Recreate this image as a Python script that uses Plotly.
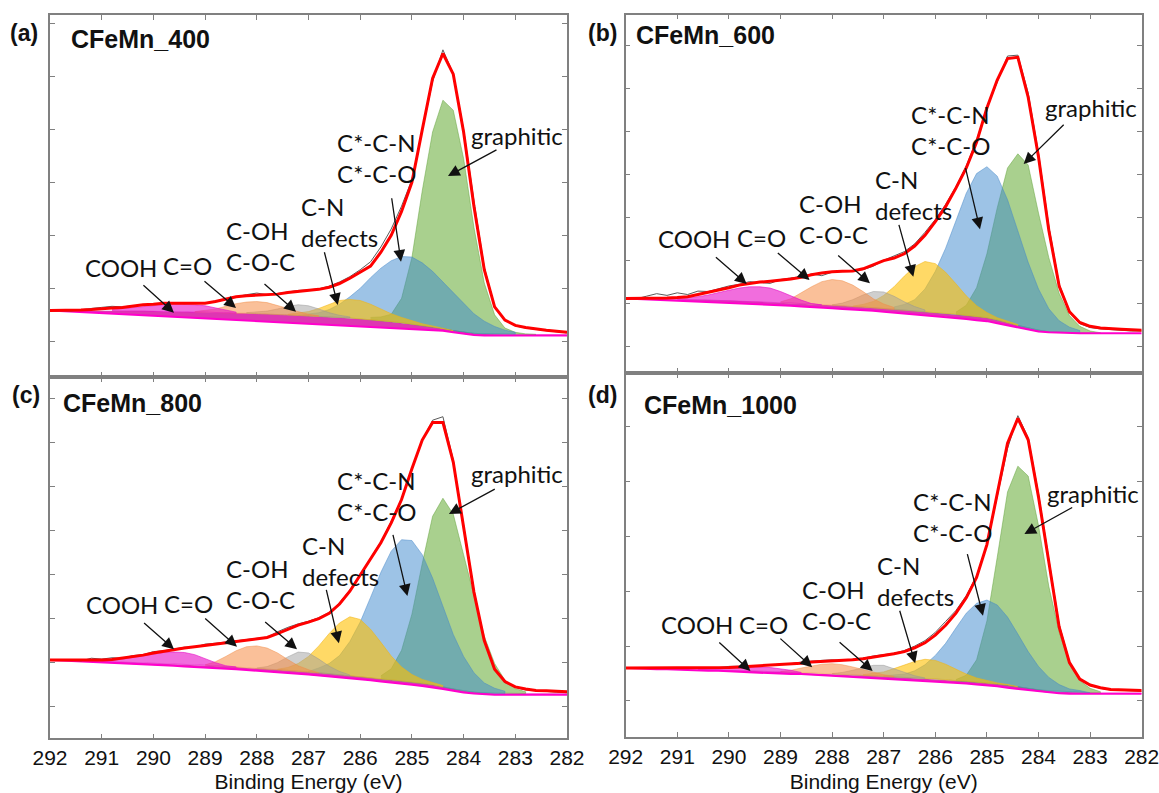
import plotly.graph_objects as go

# ---------------- data (binding energy grid, eV) ----------------
BE = [292.0, 291.8, 291.6, 291.4, 291.2, 291.0, 290.8, 290.6, 290.4, 290.2,
      290.0, 289.8, 289.6, 289.4, 289.2, 289.0, 288.8, 288.6, 288.4, 288.2,
      288.0, 287.8, 287.6, 287.4, 287.2, 287.0, 286.8, 286.6, 286.4, 286.2,
      286.0, 285.8, 285.6, 285.4, 285.2, 285.0, 284.8, 284.6, 284.4, 284.2,
      284.0, 283.8, 283.6, 283.4, 283.2, 283.0, 282.8, 282.6, 282.4, 282.2,
      282.0]

COMPONENTS = ["COOH", "C=O", "C-OH / C-O-C", "C-N defects", "C*-C-N / C*-C-O", "graphitic"]

# ---- (a) CFeMn_400 ----
a_raw = [0.57, 0.58, 0.57, 0.60, 0.62, 0.64, 0.66, 0.65, 0.67, 0.70,
         0.71, 0.72, 0.73, 0.71, 0.73, 0.72, 0.76, 0.80, 0.85, 0.88,
         0.91, 0.88, 0.90, 0.93, 0.96, 0.97, 0.99, 1.04, 1.12, 1.22,
         1.35, 1.50, 1.78, 2.12, 2.55, 3.05, 4.00, 4.90, 5.50, 5.05,
         4.00, 2.65, 1.40, 0.66, 0.40, 0.29, 0.25, 0.22, 0.20, 0.18,
         0.16]
a_fit = [0.58, 0.58, 0.58, 0.59, 0.60, 0.62, 0.63, 0.64, 0.67, 0.69,
         0.70, 0.72, 0.72, 0.72, 0.72, 0.72, 0.75, 0.79, 0.84, 0.86,
         0.87, 0.87, 0.89, 0.92, 0.94, 0.96, 0.98, 1.02, 1.09, 1.19,
         1.30, 1.42, 1.68, 2.00, 2.45, 3.00, 3.99, 4.96, 5.43, 5.04,
         3.95, 2.55, 1.35, 0.65, 0.40, 0.30, 0.26, 0.23, 0.21, 0.19,
         0.17]
a_bg_shirley = [0.58, 0.58, 0.58, 0.58, 0.58, 0.58, 0.58, 0.58, 0.57, 0.57,
                0.57, 0.56, 0.56, 0.56, 0.55, 0.55, 0.54, 0.54, 0.53, 0.53,
                0.52, 0.52, 0.51, 0.50, 0.49, 0.48, 0.47, 0.46, 0.45, 0.44,
                0.43, 0.41, 0.39, 0.37, 0.35, 0.33, 0.30, 0.27, 0.24, 0.20,
                0.17, 0.15, 0.14, 0.13, 0.13, 0.13, 0.13, 0.13, 0.13, 0.13,
                0.13]
a_bg_linear = [0.58, 0.57, 0.56, 0.55, 0.54, 0.53, 0.52, 0.51, 0.50, 0.49,
               0.48, 0.47, 0.46, 0.45, 0.44, 0.43, 0.42, 0.41, 0.40, 0.39,
               0.38, 0.37, 0.36, 0.35, 0.34, 0.33, 0.32, 0.31, 0.30, 0.29,
               0.28, 0.27, 0.26, 0.25, 0.24, 0.23, 0.22, 0.21, 0.20, 0.17,
               0.14, 0.12, 0.11, 0.11, 0.11, 0.11, 0.11, 0.11, 0.11, 0.11,
               0.11]
a_cooh_from, a_cooh = 290.8, [0.60, 0.62, 0.64, 0.66, 0.68, 0.69, 0.70, 0.70, 0.69, 0.67, 0.63, 0.59, 0.55]
a_co_from, a_co = 289.2, [0.56, 0.58, 0.61, 0.66, 0.71, 0.74, 0.75, 0.73, 0.68, 0.62, 0.56, 0.51, 0.48]
a_coh_from, a_coh = 288.2, [0.54, 0.55, 0.57, 0.61, 0.66, 0.69, 0.67, 0.61, 0.54, 0.49, 0.46]
a_cn_from, a_cn = 287.4, [0.51, 0.53, 0.56, 0.62, 0.70, 0.77, 0.79, 0.77, 0.70, 0.61, 0.52, 0.45, 0.39, 0.33, 0.29, 0.25, 0.21]
a_ccn_from, a_ccn = 287.2, [0.49, 0.51, 0.54, 0.60, 0.70, 0.84, 1.00, 1.20, 1.38, 1.52, 1.60, 1.59, 1.48, 1.32, 1.12, 0.90, 0.70, 0.52, 0.38, 0.28, 0.21, 0.17]
a_gr_from, a_gr = 285.8, [0.45, 0.46, 0.51, 0.81, 1.58, 2.84, 3.95, 4.55, 4.36, 3.45, 2.15, 1.10, 0.50, 0.25, 0.17, 0.14, 0.13]

# ---- (b) CFeMn_600 ----
b_raw = [1.12, 1.10, 1.16, 1.22, 1.18, 1.24, 1.20, 1.28, 1.27, 1.33,
         1.40, 1.44, 1.50, 1.48, 1.46, 1.55, 1.58, 1.62, 1.68, 1.64,
         1.72, 1.74, 1.77, 1.78, 1.86, 2.00, 2.10, 2.20, 2.38, 2.65,
         2.95, 3.30, 3.72, 4.20, 4.80, 5.55, 6.15, 6.76, 6.78, 5.90,
         4.50, 2.80, 1.45, 0.80, 0.52, 0.43, 0.40, 0.38, 0.36, 0.35,
         0.35]
b_fit = [1.11, 1.11, 1.11, 1.11, 1.12, 1.13, 1.15, 1.20, 1.25, 1.30,
         1.36, 1.42, 1.46, 1.49, 1.51, 1.53, 1.56, 1.60, 1.66, 1.70,
         1.73, 1.74, 1.75, 1.80, 1.89, 1.99, 2.05, 2.15, 2.33, 2.58,
         2.90, 3.25, 3.68, 4.15, 4.75, 5.55, 6.20, 6.70, 6.73, 5.80,
         4.41, 2.70, 1.40, 0.80, 0.55, 0.46, 0.42, 0.40, 0.39, 0.38,
         0.37]
b_bg_shirley = [1.11, 1.11, 1.10, 1.10, 1.09, 1.09, 1.08, 1.08, 1.07, 1.07,
                1.06, 1.05, 1.04, 1.03, 1.02, 1.01, 1.00, 0.99, 0.98, 0.96,
                0.95, 0.94, 0.92, 0.91, 0.89, 0.88, 0.86, 0.84, 0.82, 0.80,
                0.78, 0.76, 0.74, 0.71, 0.69, 0.66, 0.61, 0.55, 0.48, 0.42,
                0.37, 0.33, 0.32, 0.31, 0.31, 0.30, 0.30, 0.30, 0.30, 0.30,
                0.30]
b_bg_linear = [1.11, 1.10, 1.09, 1.08, 1.07, 1.06, 1.05, 1.04, 1.02, 1.01,
               1.00, 0.99, 0.98, 0.97, 0.96, 0.95, 0.94, 0.92, 0.91, 0.89,
               0.88, 0.86, 0.85, 0.83, 0.82, 0.80, 0.78, 0.76, 0.74, 0.72,
               0.70, 0.68, 0.65, 0.63, 0.60, 0.58, 0.53, 0.48, 0.43, 0.38,
               0.34, 0.32, 0.31, 0.30, 0.30, 0.30, 0.30, 0.30, 0.30, 0.30,
               0.30]
b_cooh_from, b_cooh = 291.0, [1.10, 1.12, 1.15, 1.19, 1.25, 1.30, 1.35, 1.38, 1.38, 1.35, 1.27, 1.17, 1.07, 0.99, 0.96]
b_co_from, b_co = 289.0, [1.03, 1.10, 1.24, 1.38, 1.50, 1.55, 1.52, 1.42, 1.27, 1.10, 0.98, 0.90]
b_coh_from, b_coh = 288.0, [0.96, 1.00, 1.08, 1.19, 1.27, 1.26, 1.16, 1.03, 0.92, 0.84]
b_cn_from, b_cn = 287.6, [0.93, 0.97, 1.04, 1.18, 1.38, 1.63, 1.85, 1.97, 1.92, 1.72, 1.45, 1.17, 0.94, 0.78, 0.66, 0.58, 0.50]
b_ccn_from, b_ccn = 286.8, [0.91, 0.97, 1.08, 1.33, 1.74, 2.28, 2.92, 3.56, 4.02, 4.18, 3.96, 3.41, 2.68, 1.95, 1.33, 0.87, 0.59, 0.44, 0.36]
b_gr_from, b_gr = 285.6, [0.79, 0.95, 1.36, 2.15, 3.22, 4.15, 4.48, 4.22, 3.10, 2.06, 1.23, 0.71, 0.46, 0.35, 0.31]

# ---- (c) CFeMn_800 ----
c_raw = [1.07, 1.05, 1.06, 1.04, 1.10, 1.08, 1.11, 1.10, 1.16, 1.18,
         1.25, 1.27, 1.31, 1.35, 1.35, 1.42, 1.44, 1.47, 1.50, 1.53,
         1.55, 1.58, 1.70, 1.80, 1.88, 1.94, 2.02, 2.14, 2.36, 2.65,
         3.00, 3.38, 3.75, 4.20, 4.72, 5.40, 6.05, 6.50, 6.58, 5.60,
         4.15, 2.65, 1.50, 0.85, 0.55, 0.44, 0.38, 0.36, 0.34, 0.33,
         0.32]
c_fit = [1.06, 1.06, 1.05, 1.05, 1.05, 1.06, 1.07, 1.10, 1.13, 1.17,
         1.22, 1.26, 1.30, 1.33, 1.36, 1.39, 1.42, 1.45, 1.49, 1.52,
         1.54, 1.57, 1.66, 1.76, 1.85, 1.92, 2.00, 2.12, 2.33, 2.62,
         2.98, 3.35, 3.72, 4.17, 4.70, 5.40, 6.05, 6.45, 6.45, 5.55,
         4.10, 2.60, 1.50, 0.85, 0.57, 0.45, 0.40, 0.37, 0.36, 0.35,
         0.34]
c_bg_shirley = [1.06, 1.05, 1.05, 1.04, 1.04, 1.03, 1.02, 1.01, 1.00, 1.00,
                0.99, 0.98, 0.97, 0.96, 0.95, 0.94, 0.93, 0.91, 0.90, 0.88,
                0.87, 0.85, 0.84, 0.82, 0.81, 0.79, 0.77, 0.75, 0.73, 0.70,
                0.68, 0.66, 0.63, 0.61, 0.58, 0.56, 0.53, 0.50, 0.45, 0.40,
                0.36, 0.33, 0.31, 0.30, 0.30, 0.30, 0.30, 0.30, 0.30, 0.30,
                0.30]
c_bg_linear = [1.06, 1.05, 1.04, 1.03, 1.01, 1.00, 0.99, 0.98, 0.97, 0.96,
               0.95, 0.94, 0.93, 0.91, 0.90, 0.89, 0.88, 0.86, 0.85, 0.83,
               0.82, 0.80, 0.78, 0.77, 0.75, 0.73, 0.71, 0.69, 0.66, 0.64,
               0.62, 0.60, 0.57, 0.55, 0.52, 0.50, 0.47, 0.44, 0.40, 0.36,
               0.32, 0.30, 0.28, 0.27, 0.27, 0.27, 0.27, 0.27, 0.27, 0.27,
               0.27]
c_cooh_from, c_cooh = 291.0, [1.03, 1.05, 1.08, 1.12, 1.16, 1.20, 1.23, 1.24, 1.23, 1.18, 1.09, 1.00, 0.93, 0.90]
c_co_from, c_co = 289.0, [0.95, 1.02, 1.14, 1.27, 1.36, 1.38, 1.33, 1.22, 1.07, 0.93, 0.84, 0.78]
c_coh_from, c_coh = 288.0, [0.88, 0.91, 1.00, 1.13, 1.24, 1.22, 1.08, 0.92, 0.80, 0.72]
c_cn_from, c_cn = 287.6, [0.85, 0.89, 0.98, 1.14, 1.38, 1.66, 1.90, 2.04, 1.98, 1.76, 1.46, 1.15, 0.90, 0.73, 0.62, 0.55, 0.48]
c_ccn_from, c_ccn = 287.0, [0.80, 0.88, 0.98, 1.16, 1.48, 1.92, 2.48, 3.05, 3.53, 3.79, 3.77, 3.45, 2.92, 2.27, 1.64, 1.14, 0.77, 0.54, 0.42, 0.35]
c_gr_from, c_gr = 285.6, [0.70, 0.86, 1.28, 2.10, 3.25, 4.32, 4.73, 4.37, 3.45, 2.50, 1.60, 0.98, 0.60, 0.41, 0.34]

# ---- (d) CFeMn_1000 ----
d_raw = [0.60, 0.60, 0.59, 0.60, 0.61, 0.60, 0.61, 0.61, 0.62, 0.61,
         0.63, 0.63, 0.64, 0.64, 0.66, 0.67, 0.68, 0.71, 0.73, 0.74,
         0.75, 0.74, 0.76, 0.78, 0.82, 0.85, 0.87, 0.92, 1.00, 1.10,
         1.25, 1.45, 1.65, 1.92, 2.28, 2.85, 3.75, 4.60, 5.20, 4.80,
         3.78, 2.60, 1.40, 0.72, 0.40, 0.28, 0.23, 0.20, 0.19, 0.18,
         0.18]
d_fit = [0.60, 0.60, 0.60, 0.60, 0.60, 0.60, 0.60, 0.60, 0.61, 0.61,
         0.61, 0.62, 0.63, 0.64, 0.65, 0.66, 0.67, 0.69, 0.71, 0.72,
         0.73, 0.73, 0.75, 0.77, 0.80, 0.82, 0.86, 0.90, 0.97, 1.06,
         1.20, 1.38, 1.60, 1.88, 2.25, 2.85, 3.80, 4.70, 5.15, 4.76,
         3.72, 2.50, 1.35, 0.70, 0.40, 0.29, 0.24, 0.21, 0.20, 0.19,
         0.19]
d_bg_shirley = [0.60, 0.60, 0.59, 0.59, 0.58, 0.58, 0.58, 0.57, 0.57, 0.56,
                0.56, 0.55, 0.55, 0.54, 0.54, 0.53, 0.52, 0.51, 0.51, 0.50,
                0.49, 0.48, 0.47, 0.47, 0.46, 0.45, 0.44, 0.43, 0.42, 0.41,
                0.40, 0.39, 0.37, 0.36, 0.34, 0.33, 0.31, 0.29, 0.26, 0.23,
                0.20, 0.18, 0.17, 0.16, 0.16, 0.15, 0.15, 0.15, 0.15, 0.15,
                0.15]
d_bg_linear = [0.60, 0.59, 0.59, 0.58, 0.58, 0.57, 0.56, 0.56, 0.55, 0.55,
               0.54, 0.53, 0.53, 0.52, 0.51, 0.50, 0.49, 0.49, 0.48, 0.47,
               0.46, 0.45, 0.44, 0.43, 0.42, 0.41, 0.40, 0.39, 0.38, 0.37,
               0.36, 0.35, 0.33, 0.32, 0.30, 0.29, 0.27, 0.24, 0.22, 0.19,
               0.17, 0.15, 0.14, 0.13, 0.13, 0.13, 0.13, 0.13, 0.13, 0.13,
               0.13]
d_cooh_from, d_cooh = 290.6, [0.57, 0.58, 0.59, 0.60, 0.61, 0.62, 0.62, 0.61, 0.59, 0.56, 0.52]
d_co_from, d_co = 289.0, [0.54, 0.56, 0.60, 0.64, 0.67, 0.68, 0.66, 0.62, 0.57, 0.52, 0.48, 0.45]
d_coh_from, d_coh = 288.0, [0.50, 0.52, 0.56, 0.61, 0.65, 0.65, 0.59, 0.52, 0.46, 0.42]
d_cn_from, d_cn = 287.4, [0.48, 0.50, 0.53, 0.59, 0.66, 0.72, 0.76, 0.74, 0.67, 0.58, 0.49, 0.42, 0.37, 0.33, 0.30, 0.27]
d_ccn_from, d_ccn = 287.0, [0.46, 0.47, 0.49, 0.55, 0.66, 0.83, 1.05, 1.33, 1.60, 1.78, 1.84, 1.75, 1.53, 1.22, 0.90, 0.63, 0.43, 0.30, 0.22, 0.19, 0.16]
d_gr_from, d_gr = 285.6, [0.39, 0.47, 0.75, 1.46, 2.62, 3.81, 4.28, 4.10, 3.20, 2.09, 1.26, 0.68, 0.37, 0.23, 0.17]

# ---------------- styles / layout ----------------
# component colours (COOH, C=O, C-OH, C-N, C*-C-N, graphitic)
FILL = ["rgba(232,20,200,0.62)", "rgba(245,140,70,0.55)", "rgba(160,160,160,0.50)",
        "rgba(255,192,0,0.60)", "rgba(59,135,205,0.50)", "rgba(99,170,50,0.55)"]
EDGE = ["rgba(232,20,200,0.8)", "rgba(240,140,70,0.6)", "rgba(150,150,150,0.6)",
        "rgba(240,180,20,0.7)", "rgba(70,135,200,0.6)", "rgba(95,160,55,0.6)"]
DRAW_ORDER = [5, 4, 3, 2, 1, 0]   # graphitic at the back, COOH at the front

panels = [
    dict(tag="(a)", name="CFeMn_400", raw=a_raw, fit=a_fit, bgs=a_bg_shirley, bgl=a_bg_linear,
         comps=[(a_cooh_from, a_cooh), (a_co_from, a_co), (a_coh_from, a_coh),
                (a_cn_from, a_cn), (a_ccn_from, a_ccn), (a_gr_from, a_gr)]),
    dict(tag="(b)", name="CFeMn_600", raw=b_raw, fit=b_fit, bgs=b_bg_shirley, bgl=b_bg_linear,
         comps=[(b_cooh_from, b_cooh), (b_co_from, b_co), (b_coh_from, b_coh),
                (b_cn_from, b_cn), (b_ccn_from, b_ccn), (b_gr_from, b_gr)]),
    dict(tag="(c)", name="CFeMn_800", raw=c_raw, fit=c_fit, bgs=c_bg_shirley, bgl=c_bg_linear,
         comps=[(c_cooh_from, c_cooh), (c_co_from, c_co), (c_coh_from, c_coh),
                (c_cn_from, c_cn), (c_ccn_from, c_ccn), (c_gr_from, c_gr)]),
    dict(tag="(d)", name="CFeMn_1000", raw=d_raw, fit=d_fit, bgs=d_bg_shirley, bgl=d_bg_linear,
         comps=[(d_cooh_from, d_cooh), (d_co_from, d_co), (d_coh_from, d_coh),
                (d_cn_from, d_cn), (d_ccn_from, d_ccn), (d_gr_from, d_gr)]),
]

# axis geometry (paper fractions) and y ranges
W, H = 1159, 793
XDOM = [[50 / W, 567 / W], [625.7 / W, 1141.7 / W], [50 / W, 567 / W], [625.7 / W, 1141.7 / W]]
YDOM = [[1 - 376.7 / H, 1 - 15 / H], [1 - 373 / H, 1 - 14.7 / H],
        [1 - 738.3 / H, 1 - 377 / H], [1 - 736.7 / H, 1 - 373 / H]]
YRANGE = [[-0.668, 6.157], [-0.629, 7.723], [-0.717, 7.481], [-0.651, 5.978]]

# label positions (data coords): text, x, y, anchor
LABELS = [
    [("COOH", 290.62, 1.402, "center"), ("C=O", 289.35, 1.426, "center"),
     ("C-OH<br>C-O-C", 288.634, 1.80, "left"), ("C-N<br>defects", 287.184, 2.245, "left"),
     ("C*-C-N<br>C*-C-O", 286.484, 3.458, "left"), ("graphitic", 282.973, 3.874, "center")],
    [("COOH", 290.67, 2.510, "center"), ("C=O", 289.37, 2.534, "center"),
     ("C-OH<br>C-O-C", 288.686, 2.972, "left"), ("C-N<br>defects", 287.215, 3.520, "left"),
     ("C*-C-N<br>C*-C-O", 286.512, 5.027, "left"), ("graphitic", 282.983, 5.564, "center")],
    [("COOH", 290.61, 2.324, "center"), ("C=O", 289.33, 2.346, "center"),
     ("C-OH<br>C-O-C", 288.634, 2.773, "left"), ("C-N<br>defects", 287.164, 3.317, "left"),
     ("C*-C-N<br>C*-C-O", 286.484, 4.792, "left"), ("graphitic", 282.960, 5.296, "center")],
    [("COOH", 290.62, 1.385, "center"), ("C=O", 289.33, 1.398, "center"),
     ("C-OH<br>C-O-C", 288.630, 1.750, "left"), ("C-N<br>defects", 287.165, 2.183, "left"),
     ("C*-C-N<br>C*-C-O", 286.477, 3.359, "left"), ("graphitic", 282.944, 3.785, "center")],
]
# arrows: tail x, tail y, head x, head y (data coords)
ARROWS = [
    [(290.222, 1.081, 289.602, 0.540), (289.041, 1.157, 288.402, 0.628), (287.880, 1.106, 287.242, 0.558),
     (286.700, 1.709, 286.433, 0.685), (285.395, 2.728, 285.211, 1.502), (283.335, 3.628, 284.302, 3.119)],
    [(290.281, 2.098, 289.655, 1.445), (289.081, 2.198, 288.436, 1.538), (287.911, 2.138, 287.266, 1.462),
     (286.713, 2.860, 286.426, 1.615), (285.421, 4.180, 285.134, 2.720), (283.483, 5.191, 284.287, 4.242)],
    [(290.209, 1.929, 289.602, 1.302), (289.027, 2.029, 288.383, 1.361), (287.867, 1.951, 287.222, 1.302),
     (286.662, 2.687, 286.412, 1.439), (285.373, 3.935, 285.087, 2.512), (283.368, 4.956, 284.284, 4.373)],
    [(290.215, 1.093, 289.583, 0.547), (289.031, 1.161, 288.386, 0.614), (287.884, 1.093, 287.215, 0.547),
     (286.698, 1.671, 286.390, 0.687), (285.386, 2.703, 285.076, 1.555), (283.318, 3.541, 284.273, 3.044)],
]
# panel tag / title positions in pixels (converted to paper)
TAGPOS = [(24, 33), (603, 33), (25.5, 395), (603, 395)]
TITLEPOS = [(68.5, 39), (633.7, 35), (61, 403), (642, 405)]

LABEL_FONT = dict(family="Lato, Carlito, sans-serif", size=24, color="#111111")
TICK_FONT = dict(family="Liberation Sans, Arial, sans-serif", size=21, color="#111111")

fig = go.Figure()
layout = dict(width=W, height=H, margin=dict(l=0, r=0, t=0, b=0, pad=0, autoexpand=False),
              template=go.layout.Template(),
              paper_bgcolor="white", plot_bgcolor="white", showlegend=False)
annotations = []
keyBE = [round(v, 1) for v in BE]

for k, p in enumerate(panels):
    sfx = "" if k == 0 else str(k + 1)
    xa, ya = "x" + sfx, "y" + sfx
    # magenta background region (between Shirley and linear)
    fig.add_trace(go.Scatter(x=BE + BE[::-1], y=p["bgs"] + p["bgl"][::-1], fill="toself",
                             fillcolor="rgba(215,20,165,0.85)", line=dict(width=0),
                             mode="lines", hoverinfo="skip", xaxis=xa, yaxis=ya))
    # components
    for c in DRAW_ORDER:
        start, vals = p["comps"][c]
        i0 = keyBE.index(round(start, 1))
        xs = BE[i0:i0 + len(vals)]
        base = p["bgs"][i0:i0 + len(vals)]
        fig.add_trace(go.Scatter(x=xs + xs[::-1], y=list(vals) + base[::-1], fill="toself",
                                 fillcolor=FILL[c], line=dict(color=EDGE[c], width=0.8),
                                 mode="lines", name=COMPONENTS[c], hoverinfo="skip",
                                 xaxis=xa, yaxis=ya))
    # background line
    fig.add_trace(go.Scatter(x=BE, y=p["bgl"], mode="lines",
                             line=dict(color="#ff00cc", width=2), xaxis=xa, yaxis=ya))
    # raw data and envelope
    fig.add_trace(go.Scatter(x=BE, y=p["raw"], mode="lines",
                             line=dict(color="#5a5a5a", width=1), xaxis=xa, yaxis=ya))
    fig.add_trace(go.Scatter(x=BE, y=p["fit"], mode="lines",
                             line=dict(color="#ff0000", width=3), xaxis=xa, yaxis=ya))

    bottom = k >= 2
    layout["xaxis" + sfx] = dict(
        domain=XDOM[k], range=[292, 282], anchor=ya, tick0=282, dtick=1, automargin=False,
        ticks="inside", ticklen=5, tickwidth=1.2, tickcolor="#808080",
        showline=True, linecolor="#808080", linewidth=1.5, mirror="ticks",
        showgrid=False, zeroline=False, showticklabels=bottom, tickfont=TICK_FONT,
        ticklabeloverflow="allow",
        title=dict(text="Binding Energy (eV)" if bottom else "", font=dict(
            family="Liberation Sans, Arial, sans-serif", size=21, color="#111111"), standoff=8),
    )
    layout["yaxis" + sfx] = dict(
        domain=YDOM[k], range=YRANGE[k], anchor=xa, tick0=0, dtick=1, automargin=False,
        ticks="inside", ticklen=5, tickwidth=1.2, tickcolor="#808080",
        showline=True, linecolor="#808080", linewidth=1.5, mirror="ticks",
        showgrid=False, zeroline=False, showticklabels=False,
    )

    for (txt, lx, ly, anc) in LABELS[k]:
        annotations.append(dict(text=txt, x=lx, y=ly, xref=xa, yref=ya, showarrow=False,
                                xanchor=anc, yanchor="middle", align="left", font=LABEL_FONT))
    for (tx, ty, hx, hy) in ARROWS[k]:
        annotations.append(dict(text="", x=hx, y=hy, ax=tx, ay=ty, xref=xa, yref=ya,
                                axref=xa, ayref=ya, showarrow=True, arrowhead=2,
                                arrowsize=1.8, arrowwidth=1.3, arrowcolor="#111111", standoff=0))
    tx, ty = TAGPOS[k]
    annotations.append(dict(text="<b>%s</b>" % p["tag"], x=tx / W, y=1 - ty / H, xref="paper",
                            yref="paper", showarrow=False, xanchor="center", yanchor="middle",
                            font=dict(family="Liberation Sans, Arial, sans-serif", size=23, color="#111111")))
    nx, ny = TITLEPOS[k]
    annotations.append(dict(text="<b>%s</b>" % p["name"], x=nx / W, y=1 - ny / H, xref="paper",
                            yref="paper", showarrow=False, xanchor="left", yanchor="middle",
                            font=dict(family="Liberation Sans, Arial, sans-serif", size=25, color="#111111")))

layout["annotations"] = annotations
fig.update_layout(**layout)
fig.write_html("out.html")
